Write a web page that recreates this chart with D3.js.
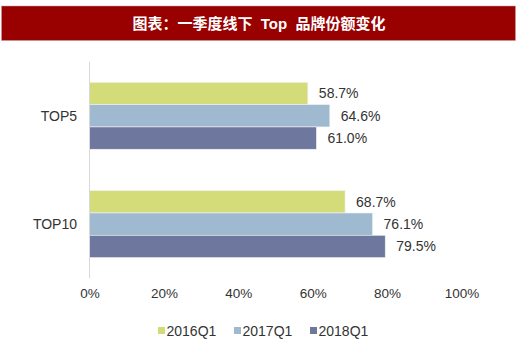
<!DOCTYPE html>
<html>
<head>
<meta charset="utf-8">
<script src="https://cdn.jsdelivr.net/npm/d3@7"></script>
<style>
  body { margin: 0; background: #fff; }
  svg { display: block; font-family: "Liberation Sans", Arial, sans-serif; }
</style>
</head>
<body>
<svg id="chart"></svg>
<script>
const w = 520;
const h = 345;

const titleText = '图表：一季度线下  Top  品牌份额变化';
const categories = ['TOP5', 'TOP10'];
const seriesNames = ['2016Q1', '2017Q1', '2018Q1'];
const values2016 = [58.7, 68.7];
const values2017 = [64.6, 76.1];
const values2018 = [61.0, 79.5];
const tickValues = [0, 20, 40, 60, 80, 100];

const seriesColors = ['#d3dc78', '#9fbad0', '#6e789f'];
const series = [values2016, values2017, values2018];

const svg = d3.select('#chart').attr('width', w).attr('height', h);

// title banner
svg.append('rect')
  .attr('x', 1.5).attr('y', 6)
  .attr('width', 514).attr('height', 34.5)
  .attr('fill', '#990000')
  .attr('stroke', '#c9a0a0').attr('stroke-width', 0.5);

svg.append('text')
  .attr('x', 259).attr('y', 23.5)
  .attr('text-anchor', 'middle')
  .attr('dominant-baseline', 'central')
  .attr('fill', '#fff')
  .attr('font-size', 15)
  .attr('font-weight', 'bold')
  .style('font-family', '"Liberation Sans", "Noto Sans CJK SC", sans-serif')
  .style('white-space', 'pre')
  .text(titleText);

// scales
const x = d3.scaleLinear().domain([0, 100]).range([89.5, 461.5]);
const y = d3.scaleBand().domain(categories).range([61.6, 278.3])
  .paddingInner(0.382).paddingOuter(0.191);
const ySub = d3.scaleBand().domain(d3.range(seriesNames.length))
  .range([0, y.bandwidth()]);

// bars
const groups = svg.selectAll('g.cat')
  .data(categories)
  .join('g')
  .attr('class', 'cat')
  .attr('transform', (d) => `translate(0,${y(d)})`);

groups.each(function (cat, ci) {
  const g = d3.select(this);
  series.forEach((vals, si) => {
    g.append('rect')
      .attr('x', x(0))
      .attr('y', ySub(si))
      .attr('width', x(vals[ci]) - x(0))
      .attr('height', ySub.bandwidth())
      .attr('fill', seriesColors[si])
      .attr('stroke', '#f2f2f2')
      .attr('stroke-width', 0.6);
    g.append('text')
      .attr('x', x(vals[ci]) + 11)
      .attr('y', ySub(si) + ySub.bandwidth() / 2)
      .attr('dominant-baseline', 'central')
      .attr('font-size', 14)
      .attr('fill', '#333')
      .text(vals[ci].toFixed(1) + '%');
  });
});

// y axis line + category labels
svg.append('line')
  .attr('x1', x(0)).attr('x2', x(0))
  .attr('y1', 61.6).attr('y2', 278.3)
  .attr('stroke', '#d9d9d9');

svg.selectAll('text.cat')
  .data(categories)
  .join('text')
  .attr('class', 'cat')
  .attr('x', 77)
  .attr('y', (d) => y(d) + y.bandwidth() / 2)
  .attr('text-anchor', 'end')
  .attr('dominant-baseline', 'central')
  .attr('font-size', 14)
  .attr('fill', '#333')
  .text((d) => d);

// x axis tick labels
const xAxis = d3.axisBottom(x)
  .tickValues(tickValues)
  .tickSize(0)
  .tickPadding(0)
  .tickFormat((d) => d + '%');

svg.append('g')
  .attr('transform', 'translate(0,288)')
  .call(xAxis)
  .call((g) => g.select('.domain').remove())
  .call((g) => g.selectAll('text')
    .attr('font-size', 13.5)
    .attr('fill', '#333')
    .style('font-family', '"Liberation Sans", Arial, sans-serif'));

// legend
const legendX = [158, 234, 310];
const legend = svg.selectAll('g.legend')
  .data(seriesNames)
  .join('g')
  .attr('class', 'legend')
  .attr('transform', (d, i) => `translate(${legendX[i]},330.5)`);

legend.append('rect')
  .attr('x', 0).attr('y', -3.5)
  .attr('width', 7).attr('height', 7)
  .attr('fill', (d, i) => seriesColors[i]);

legend.append('text')
  .attr('x', 8.5)
  .attr('dominant-baseline', 'central')
  .attr('font-size', 14)
  .attr('fill', '#333')
  .text((d) => d);
</script>
</body>
</html>
